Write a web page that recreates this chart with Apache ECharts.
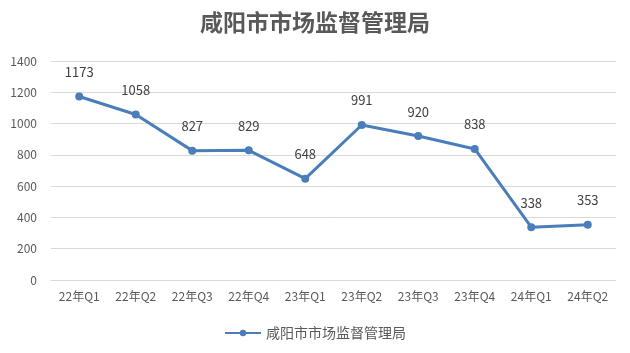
<!DOCTYPE html>
<html>
<head>
<meta charset="utf-8">
<script src="https://cdn.jsdelivr.net/npm/echarts@6/dist/echarts.min.js"></script>
<style>
  html, body { margin: 0; padding: 0; background: #fff; }
  #chart { width: 630px; height: 353px; }
</style>
</head>
<body>
<div id="chart"></div>
<script>
const titleText = '咸阳市市场监督管理局'
const seriesName = '咸阳市市场监督管理局'
const quarters = ['22年Q1', '22年Q2', '22年Q3', '22年Q4', '23年Q1', '23年Q2', '23年Q3', '23年Q4', '24年Q1', '24年Q2']
const values = [1173, 1058, 827, 829, 648, 991, 920, 838, 338, 353]

const font = '"Noto Sans CJK SC", "Noto Sans", sans-serif'
const chart = echarts.init(document.getElementById('chart'), null, { renderer: 'canvas' })

chart.setOption({
  backgroundColor: '#fff',
  animation: false,
  title: {
    text: titleText,
    left: 'center',
    top: 6,
    textStyle: { color: '#595959', fontSize: 23, fontWeight: 'bold', fontFamily: font }
  },
  legend: {
    bottom: 8,
    left: 'center',
    itemWidth: 36,
    itemHeight: 8,
    itemGap: 6,
    textStyle: { color: '#595959', fontSize: 14, fontFamily: font },
    data: [seriesName]
  },
  grid: { left: 51, right: 14, top: 61, bottom: 73 },
  xAxis: {
    type: 'category',
    data: quarters,
    axisLine: { lineStyle: { color: '#d9d9d9' } },
    axisTick: { show: false },
    axisLabel: { color: '#595959', fontSize: 12, fontFamily: font, margin: 10 }
  },
  yAxis: {
    type: 'value',
    min: 0,
    max: 1400,
    interval: 200,
    axisLine: { show: false },
    axisTick: { show: false },
    axisLabel: { color: '#595959', fontSize: 12, fontFamily: font, margin: 14, formatter: v => String(v) },
    splitLine: { lineStyle: { color: '#d9d9d9' } }
  },
  series: [
    {
      name: seriesName,
      type: 'line',
      data: values,
      symbol: 'circle',
      symbolSize: 8,
      lineStyle: { width: 3, color: '#4a7ebb' },
      itemStyle: { color: '#4a7ebb' },
      label: {
        show: true,
        position: 'top',
        distance: 14,
        color: '#404040',
        fontSize: 13,
        fontFamily: font
      }
    }
  ]
})
</script>
</body>
</html>
